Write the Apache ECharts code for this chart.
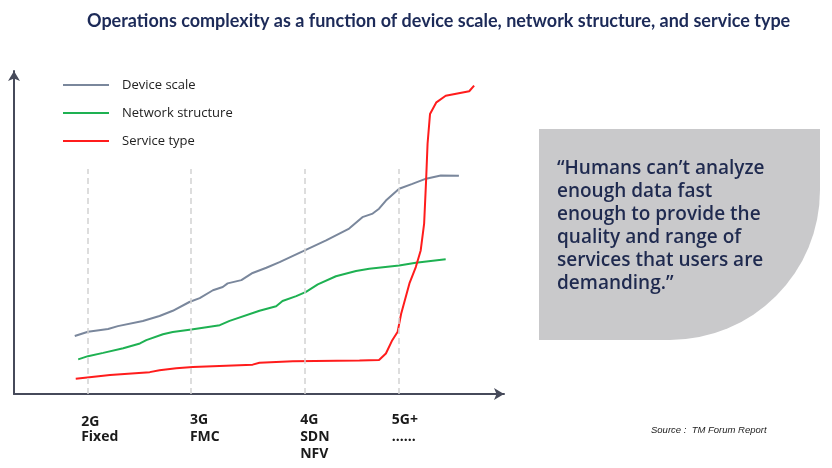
<!DOCTYPE html>
<html>
<head>
<meta charset="utf-8">
<script src="https://cdn.jsdelivr.net/npm/echarts@6/dist/echarts.min.js"></script>
<style>
html,body{margin:0;padding:0;background:#fff;}
#chart{width:832px;height:468px;}
</style>
</head>
<body>
<div id="chart"></div>
<script>
// ---- data ----
const titleText = 'Operations complexity as a function of device scale, network structure, and service type';
const seriesNames = ['Device scale', 'Network structure', 'Service type'];
const deviceScale = [
  [12.4,17.8],[15.1,19.1],[19.2,19.9],[21.2,20.8],[26.3,22.4],[29.7,23.9],[32.4,25.5],
  [35.8,28.2],[37.9,29.4],[40.6,31.8],[42.6,32.8],[43.6,33.9],[46.4,34.9],[48.7,37.1],
  [51.5,38.7],[54.2,40.4],[58.9,43.7],[63.7,47.1],[68.4,50.7],[71.1,54.2],[73.2,55.3],
  [74.5,56.8],[75.9,59.3],[78.6,62.9],[81.3,64.4],[84.1,66.0],[87.1,67.0],[90.8,66.9]
];
const networkStructure = [
  [13.1,10.6],[15.1,11.6],[18.2,12.6],[22.3,14.0],[25.7,15.5],[27.0,16.5],[30.4,18.3],
  [32.4,19.0],[36.2,19.8],[42.0,21.1],[44.0,22.4],[50.1,25.5],[53.5,26.9],[54.8,28.5],
  [57.6,30.0],[59.6,31.3],[62.0,33.6],[65.7,36.1],[69.8,37.7],[72.5,38.4],[78.6,39.4],
  [82.0,40.2],[88.1,41.3]
];
const serviceType = [
  [12.6,4.7],[19.6,5.8],[27.7,6.7],[29.7,7.3],[33.1,7.9],[36.5,8.3],[48.7,9.0],[50.1,9.6],
  [56.9,10.0],[70.5,10.3],[74.5,10.4],[75.9,12.4],[77.2,16.5],[78.3,19.1],[79.0,24.5],
  [80.7,33.9],[82.0,38.9],[83.0,44.0],[83.7,52.2],[84.1,65.4],[84.4,76.7],[84.9,85.8],
  [86.2,89.4],[88.1,91.4],[92.9,92.8],[93.9,94.5]
];
const eraX = [15.1, 36.0, 59.3, 78.6];          // dashed era lines
const eraTop = 69;
const tickLabelX = [13.7, 35.9, 58.4, 77.1];    // where the era labels start
const tickLabels = ['{lo|2G}\nFixed', '3G\nFMC', '4G\nSDN\nNFV', '5G+\n......'];
const quoteLines = ['\u201cHumans can\u2019t analyze', 'enough data fast', 'enough to provide the',
  'quality and range of', 'services that users are', 'demanding.\u201d'];
const sourceText = 'Source :  TM Forum Report';

const chart = echarts.init(document.getElementById('chart'), null, {renderer: 'canvas'});
const axisColor = '#464a5a';

chart.setOption({
  animation: false,
  backgroundColor: '#ffffff',
  title: {
    text: titleText,
    left: 82, top: 7,
    textStyle: {fontFamily: 'Lato', fontWeight: 'bold', fontSize: 18, color: '#1c2a58'}
  },
  legend: {
    orient: 'vertical',
    left: 57, top: 72,
    itemWidth: 46, itemHeight: 14, itemGap: 12,
    data: seriesNames,
    itemStyle: {opacity: 0},
    textStyle: {fontFamily: 'Open Sans', fontSize: 13, color: '#222', lineHeight: 16, padding: [0,0,0,8]}
  },
  grid: {left: 14, right: 328, top: 71, bottom: 74},
  xAxis: {
    type: 'value', min: 0, max: 100,
    splitLine: {show: false},
    axisTick: {show: false},
    axisLine: {show: true, symbol: ['none', 'arrow'], symbolSize: [9, 10],
      lineStyle: {color: axisColor, width: 2}},
    axisLabel: {
      customValues: tickLabelX,
      align: 'left', margin: 18,
      fontFamily: 'Open Sans', fontWeight: 'bold', fontSize: 14, lineHeight: 17, color: '#1a1a1a',
      formatter: function (v) {
        let i = tickLabelX.indexOf(v);
        if (i < 0) { i = tickLabelX.findIndex(t => Math.abs(t - v) < 1e-6); }
        return i >= 0 ? tickLabels[i] : '';
      },
      rich: {lo: {padding: [4, 0, 0, 0], fontFamily: 'Open Sans', fontWeight: 'bold', fontSize: 14, lineHeight: 17, color: '#1a1a1a'}}
    }
  },
  yAxis: {
    type: 'value', min: 0, max: 99,
    splitLine: {show: false},
    axisTick: {show: false},
    axisLabel: {show: false},
    axisLine: {show: true, symbol: ['none', 'arrow'], symbolSize: [9, 10],
      lineStyle: {color: axisColor, width: 2}}
  },
  series: [
    {
      name: seriesNames[0], type: 'line', data: deviceScale, symbol: 'none',
      lineStyle: {color: '#7a879c', width: 2}, itemStyle: {color: '#7a879c'}, z: 3,
      markLine: {
        silent: true, symbol: ['none', 'none'], label: {show: false},
        lineStyle: {type: [6, 4], color: '#d2d2d2', width: 1.5},
        data: eraX.map(x => [{coord: [x, 0]}, {coord: [x, eraTop]}])
      }
    },
    {
      name: seriesNames[1], type: 'line', data: networkStructure, symbol: 'none',
      lineStyle: {color: '#1eb152', width: 2}, itemStyle: {color: '#1eb152'}, z: 3
    },
    {
      name: seriesNames[2], type: 'line', data: serviceType, symbol: 'none',
      lineStyle: {color: '#ff1c1c', width: 2}, itemStyle: {color: '#ff1c1c'}, z: 3
    }
  ],
  graphic: [
    {
      type: 'rect', z: 0,
      shape: {x: 539, y: 129, width: 281, height: 211, r: [0, 0, 150, 0]},
      style: {fill: '#c9c9cb'}
    },
    {
      type: 'text', z: 1, x: 557, y: 157,
      style: {text: quoteLines.join('\n'), fontFamily: 'Open Sans', fontWeight: 600,
        fontSize: 19, lineHeight: 23, fill: '#1f2a4f', verticalAlign: 'top'}
    },
    {
      type: 'text', z: 1, x: 651, y: 430,
      style: {text: sourceText, fontFamily: 'Liberation Sans', fontStyle: 'italic',
        fontSize: 9.5, fill: '#222', verticalAlign: 'middle'}
    }
  ]
});
</script>
</body>
</html>
